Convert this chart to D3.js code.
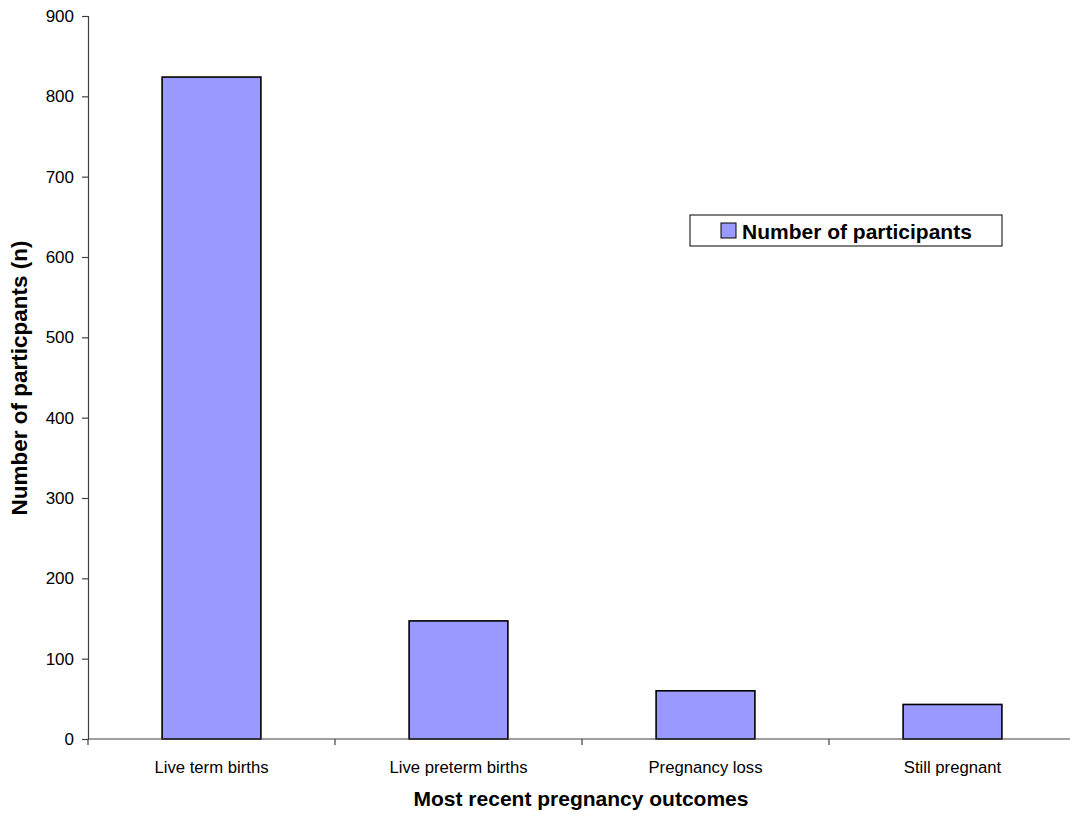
<!DOCTYPE html>
<html>
<head>
<meta charset="utf-8">
<script src="https://cdn.jsdelivr.net/npm/d3@7"></script>
<style>
  html, body { margin: 0; padding: 0; background: #fff; }
  svg { display: block; font-family: "Liberation Sans", Arial, sans-serif; }
</style>
</head>
<body>
<svg id="chart" width="1070" height="815"></svg>
<script>
// Most recent pregnancy outcomes
const categories = ["Live term births", "Live preterm births", "Pregnancy loss", "Still pregnant"];
const participants = [824, 147, 60, 43];
const yTicks = [0, 100, 200, 300, 400, 500, 600, 700, 800, 900];
const seriesName = "Number of participants";

const svg = d3.select("#chart");
const plot = { left: 88, right: 1076, top: 16, bottom: 739 };

const x = d3.scaleBand().domain(categories).range([plot.left, plot.right]).paddingInner(0).paddingOuter(0);
const y = d3.scaleLinear().domain([0, 900]).range([plot.bottom, plot.top]);

const axisColor = "#404040";
const fontFamily = "'Liberation Sans', Arial, sans-serif";

// Y axis
const yAxis = svg.append("g")
  .attr("transform", `translate(${plot.left},0)`)
  .call(d3.axisLeft(y).tickValues(yTicks).tickSize(6).tickPadding(8).tickFormat(d3.format("d")));
yAxis.select(".domain").attr("stroke", axisColor).attr("stroke-width", 1.2);
yAxis.selectAll(".tick line").attr("stroke", axisColor).attr("stroke-width", 1.2);
yAxis.selectAll("text").attr("font-size", 17).attr("fill", "#000")
  .attr("font-family", fontFamily);

// Bars
const barW = x.bandwidth() * 0.4;
svg.append("g").selectAll("rect")
  .data(categories.map((c, i) => ({ c, v: participants[i] })))
  .join("rect")
  .attr("x", d => x(d.c) + (x.bandwidth() - barW) / 2)
  .attr("y", d => y(d.v))
  .attr("width", barW)
  .attr("height", d => y(0) - y(d.v))
  .attr("fill", "#9999FF")
  .attr("stroke", "#000")
  .attr("stroke-width", 1.6);

// X axis (ticks between categories)
const xg = svg.append("g");
xg.append("line")
  .attr("x1", plot.left).attr("x2", plot.right)
  .attr("y1", plot.bottom).attr("y2", plot.bottom)
  .attr("stroke", axisColor).attr("stroke-width", 1.2);
const boundaries = categories.map(c => x(c)).concat([x(categories[categories.length - 1]) + x.bandwidth()]);
xg.selectAll("line.tk").data(boundaries).join("line")
  .attr("class", "tk")
  .attr("x1", d => d).attr("x2", d => d)
  .attr("y1", plot.bottom).attr("y2", plot.bottom + 6)
  .attr("stroke", axisColor).attr("stroke-width", 1.2);
xg.selectAll("text").data(categories).join("text")
  .attr("x", d => x(d) + x.bandwidth() / 2)
  .attr("y", plot.bottom + 34)
  .attr("text-anchor", "middle")
  .attr("font-size", 16.7)
  .attr("fill", "#000")
  .text(d => d);

// Axis titles
svg.append("text")
  .attr("x", 581).attr("y", 806)
  .attr("text-anchor", "middle")
  .attr("font-size", 21).attr("font-weight", "bold")
  .text("Most recent pregnancy outcomes");

svg.append("text")
  .attr("transform", "translate(27,378) rotate(-90)")
  .attr("text-anchor", "middle")
  .attr("font-size", 22.5).attr("font-weight", "bold")
  .text("Number of particpants (n)");

// Legend
const lg = svg.append("g").attr("transform", "translate(690,215)");
lg.append("rect")
  .attr("x", 0).attr("y", 0).attr("width", 312).attr("height", 31)
  .attr("fill", "#fff").attr("stroke", "#000").attr("stroke-width", 1);
lg.append("rect")
  .attr("x", 31).attr("y", 8).attr("width", 15).attr("height", 15)
  .attr("fill", "#9999FF").attr("stroke", "#000").attr("stroke-width", 1);
lg.append("text")
  .attr("x", 52).attr("y", 23.5)
  .attr("font-size", 21).attr("font-weight", "bold")
  .text(seriesName);
</script>
</body>
</html>
